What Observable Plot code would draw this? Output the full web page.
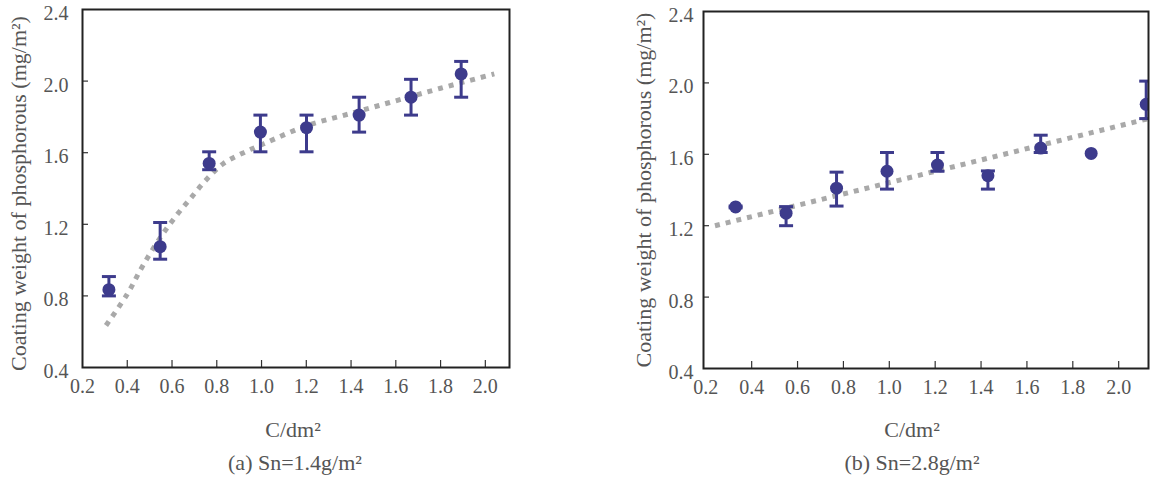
<!DOCTYPE html>
<html>
<head>
<meta charset="utf-8">
<script src="https://cdn.jsdelivr.net/npm/d3@7"></script>
<script src="https://cdn.jsdelivr.net/npm/@observablehq/plot@0.6"></script>
<style>
  html, body { margin: 0; padding: 0; background: #fff; }
  #wrap { position: relative; width: 1151px; height: 482px; overflow: hidden; background: #fff; }
  .panel { position: absolute; top: 0; }
  .lab { position: absolute; width: 300px; text-align: center; font-family: "Liberation Serif", serif; font-size: 22px; line-height: 22px; color: #555; }
</style>
</head>
<body>
<div id="wrap">
  <div id="pa" class="panel" style="left:0px"></div>
  <div id="pb" class="panel" style="left:620px"></div>
  <div class="lab" style="left:143px; top:419px">C/dm²</div>
  <div class="lab" style="left:145px; top:452px">(a) Sn=1.4g/m²</div>
  <div class="lab" style="left:762px; top:419px">C/dm²</div>
  <div class="lab" style="left:762px; top:452px">(b) Sn=2.8g/m²</div>
</div>
<script>
// ---- data ----
const xTicks = [0.2, 0.4, 0.6, 0.8, 1.0, 1.2, 1.4, 1.6, 1.8, 2.0];
const yTicks = [0.4, 0.8, 1.2, 1.6, 2.0, 2.4];
const yTitle = "Coating weight of phosphorous (mg/m²)";

// (a) Sn = 1.4 g/m2
const currentA = [0.318, 0.547, 0.766, 0.995, 1.201, 1.436, 1.668, 1.892];
const weightA  = [0.835, 1.075, 1.54, 1.715, 1.74, 1.81, 1.91, 2.04];
const lowA     = [0.80, 1.005, 1.505, 1.605, 1.605, 1.715, 1.81, 1.91];
const highA    = [0.908, 1.21, 1.605, 1.81, 1.81, 1.91, 2.01, 2.11];
const trendAx  = [0.305, 0.40, 0.47, 0.55, 0.62, 0.68, 0.75, 0.83, 0.92, 1.01, 1.2, 1.4, 1.6, 1.8, 2.04];
const trendAy  = [0.635, 0.81, 0.97, 1.13, 1.25, 1.34, 1.445, 1.54, 1.60, 1.65, 1.75, 1.82, 1.89, 1.96, 2.04];

// (b) Sn = 2.8 g/m2
const currentB = [0.33, 0.55, 0.77, 0.99, 1.21, 1.43, 1.66, 1.88, 2.12];
const weightB  = [1.305, 1.27, 1.41, 1.505, 1.54, 1.48, 1.635, 1.605, 1.88];
const lowB     = [1.30, 1.20, 1.31, 1.405, 1.505, 1.405, 1.61, null, 1.80];
const highB    = [1.31, 1.307, 1.50, 1.61, 1.61, 1.507, 1.707, null, 2.01];
const trendBx  = [0.24, 2.13];
const trendBy  = [1.20, 1.80];

// ---- drawing ----
const navy = "#3d3b8c";
const capSymbol = {
  draw(ctx, size) {
    const w = Math.sqrt(size / Math.PI);
    ctx.moveTo(-w, 0);
    ctx.lineTo(w, 0);
  }
};
const fmt = d => d.toFixed(1);

function panel(opts) {
  const {xs, ys, lo, hi, tx, ty, xDomain, width, height, mL, mR, mT, mB, yPad, titleDx, titleDy} = opts;
  const pts = xs.map((x, i) => ({x, y: ys[i], lo: lo[i], hi: hi[i]}));
  const errs = pts.filter(d => d.lo != null && d.hi != null);
  const trend = tx.map((x, i) => ({x, y: ty[i]}));
  const frameW = width - mL - mR;
  const frameH = height - mT - mB;
  return Plot.plot({
    width, height,
    marginLeft: mL, marginRight: mR, marginTop: mT, marginBottom: mB,
    x: {domain: xDomain, axis: null},
    y: {domain: [0.4, 2.4], axis: null},
    style: {fontFamily: "Liberation Serif, serif", fontSize: "20px", color: "#555", background: "white", overflow: "visible"},
    marks: [
      Plot.line(trend, {x: "x", y: "y", stroke: "#a9a9a9", strokeWidth: 5, strokeDasharray: "5,6", strokeLinecap: "butt", strokeLinejoin: "miter", curve: "catmull-rom", clip: true}),
      Plot.ruleX(errs, {x: "x", y1: "lo", y2: "hi", stroke: navy, strokeWidth: 3, clip: true}),
      Plot.dot(errs, {x: "x", y: "hi", symbol: capSymbol, r: 7, fill: "none", stroke: navy, strokeWidth: 3, clip: true}),
      Plot.dot(errs, {x: "x", y: "lo", symbol: capSymbol, r: 7, fill: "none", stroke: navy, strokeWidth: 3, clip: true}),
      Plot.dot(pts, {x: "x", y: "y", r: 6.5, fill: navy, stroke: "none", clip: true}),
      Plot.tickX(xTicks.filter(d => d > xDomain[0] + 0.05), {x: d => d, insetTop: frameH - 7, stroke: "#333", strokeWidth: 1.2}),
      Plot.tickY(yTicks.filter(d => d > 0.5 && d < 2.3), {y: d => d, insetRight: frameW - 6, stroke: "#333", strokeWidth: 1.2}),
      // tick labels
      Plot.text(xTicks, {x: d => d, frameAnchor: "bottom", text: fmt, dy: 11, lineAnchor: "top", textAnchor: "middle", fontSize: 20, fill: "#555"}),
      Plot.text(yTicks, {y: d => d, frameAnchor: "left", text: fmt, dx: -yPad, dy: 4, lineAnchor: "middle", textAnchor: "end", fontSize: 20, fill: "#555"}),
      Plot.frame({stroke: "#222", strokeWidth: 2}),
      Plot.text([yTitle], {frameAnchor: "left", text: d => d, dx: titleDx, dy: titleDy, rotate: -90, textAnchor: "middle", lineAnchor: "middle", fontSize: 22, fill: "#555"})
    ]
  });
}

document.getElementById("pa").appendChild(panel({
  xs: currentA, ys: weightA, lo: lowA, hi: highA, tx: trendAx, ty: trendAy,
  xDomain: [0.2, 2.108], width: 600, height: 400, mL: 82, mR: 91, mT: 9, mB: 33,
  yPad: 14, titleDx: -64, titleDy: 5
}));

document.getElementById("pb").appendChild(panel({
  xs: currentB, ys: weightB, lo: lowB, hi: highB, tx: trendBx, ty: trendBy,
  xDomain: [0.19, 2.13], width: 531, height: 400, mL: 83, mR: 3, mT: 11, mB: 32,
  yPad: 10, titleDx: -60, titleDy: 0
}));
</script>
</body>
</html>
